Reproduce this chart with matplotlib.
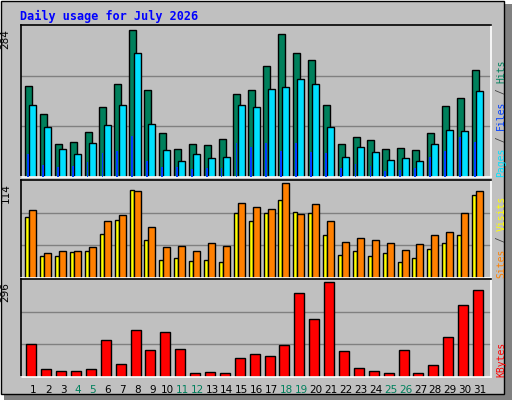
import numpy as np
import matplotlib
matplotlib.use("Agg")
import matplotlib.pyplot as plt
from matplotlib.patches import Rectangle

days = list(range(1, 32))
weekend = [4, 5, 11, 12, 18, 19, 25, 26]

hits = [176, 121, 63, 67, 86, 135, 179, 284, 168, 85, 54, 63, 61, 73, 160, 168,
        214, 276, 238, 226, 139, 63, 77, 71, 54, 56, 52, 85, 137, 152, 207]
files = [139, 96, 54, 44, 65, 100, 139, 239, 102, 52, 30, 44, 36, 38, 139, 135,
         170, 174, 189, 179, 96, 38, 57, 48, 32, 36, 30, 63, 90, 88, 166]
pages = [44, 23, 19, 21, 28, 46, 50, 79, 30, 19, 19, 15, 17, 17, 65, 57,
         65, 50, 65, 48, 46, 17, 26, 21, 11, 13, 17, 38, 50, 77, 67]
visits = [81, 30, 32, 32, 37, 68, 76, 104, 61, 37, 38, 32, 42, 38, 90, 85,
          83, 114, 77, 89, 68, 43, 48, 46, 42, 33, 41, 51, 55, 78, 104]
sites = [73, 26, 26, 31, 32, 53, 69, 106, 45, 22, 24, 20, 22, 19, 78, 68,
         78, 93, 79, 78, 51, 27, 32, 26, 30, 19, 24, 35, 42, 51, 100]
kbytes = [104, 26, 20, 20, 26, 114, 39, 146, 85, 140, 88, 13, 16, 13, 59, 72,
          65, 101, 263, 182, 296, 81, 29, 20, 13, 85, 13, 36, 124, 224, 270]

BG = "#C0C0C0"
W, H = 512, 400
fig = plt.figure(figsize=(W / 100, H / 100), dpi=100)
fig.patch.set_facecolor("white")

# outer frame with shadow (behind the axes)
fig.add_artist(Rectangle((4 / W, 0), (W - 4) / W, (H - 4) / H, transform=fig.transFigure,
                         facecolor="#808080", edgecolor="none", zorder=-10))
fig.add_artist(Rectangle((1 / W, 6 / H), (W - 9) / W, (H - 7) / H, transform=fig.transFigure,
                         facecolor=BG, edgecolor="black", lw=1, zorder=-9))
fig.text(20 / W, 1 - 16 / H, "Daily usage for July 2026", color="#0000FF",
         fontsize=8.5, fontweight="bold", family="DejaVu Sans Mono", va="center")

x = np.array(days)
left, right = 20.7, 490.7


def panel(top, bottom):
    ax = fig.add_axes([left / W, 1 - bottom / H, (right - left) / W, (bottom - top) / H])
    ax.set_facecolor(BG)
    ax.set_xlim(0.15, 31.72)
    ax.set_xticks([])
    ax.set_yticks([])
    for s in ax.spines.values():
        s.set_color("black")
        s.set_linewidth(1.2)
    ax.spines["bottom"].set_color("white")
    ax.spines["right"].set_color("white")
    return ax


def grid(ax, ymax):
    top = ymax / 0.97
    ax.set_ylim(0, top)
    for f in (1 / 3, 2 / 3):
        ax.axhline(top * f, color="#808080", lw=1, zorder=0)
    ax.text(-0.022, 0.97, str(ymax), transform=ax.transAxes, rotation=90,
            ha="right", va="top", fontsize=7.5)


def side_label(ax, parts, height_px):
    y = 0.0
    for txt, col in parts:
        ax.text(1.012, y, txt, transform=ax.transAxes, rotation=90, color=col,
                ha="left", va="bottom", fontsize=7, family="DejaVu Sans Mono")
        y += len(txt) * 5.9 / height_px


kw = dict(edgecolor="black", linewidth=1, align="edge", zorder=2)

ax1 = panel(25, 177)
grid(ax1, max(hits))
ax1.bar(x - 0.56, hits, 0.47, color="#00805C", **kw)
ax1.bar(x - 0.27, files, 0.47, color="#00E0FF", **kw)
ax1.bar(x - 0.42, pages, 0.12, color="#0040FF", edgecolor="none", align="edge", zorder=3)
side_label(ax1, [("Pages", "#00E0FF"), (" / ", "#404040"), ("Files", "#0040FF"),
                 (" / ", "#404040"), ("Hits", "#00805C")], 152)

ax2 = panel(180, 278)
grid(ax2, max(visits))
ax2.bar(x - 0.54, sites, 0.27, color="#FFFF00", **kw)
ax2.bar(x - 0.27, visits, 0.47, color="#FF8000", **kw)
side_label(ax2, [("Sites", "#FF8000"), (" / ", "#404040"), ("Visits", "#FFFF00")], 98)

ax3 = panel(279, 377)
grid(ax3, max(kbytes))
ax3.bar(x - 0.47, kbytes, 0.67, color="#FF0000", **kw)
side_label(ax3, [("KBytes", "#FF0000")], 98)
for d in days:
    ax3.text(d, -0.13, str(d), transform=ax3.get_xaxis_transform(), ha="center", va="center",
             fontsize=7.5, color="#00805C" if d in weekend else "black")

fig.savefig("out.png", dpi=100, facecolor=fig.get_facecolor())
